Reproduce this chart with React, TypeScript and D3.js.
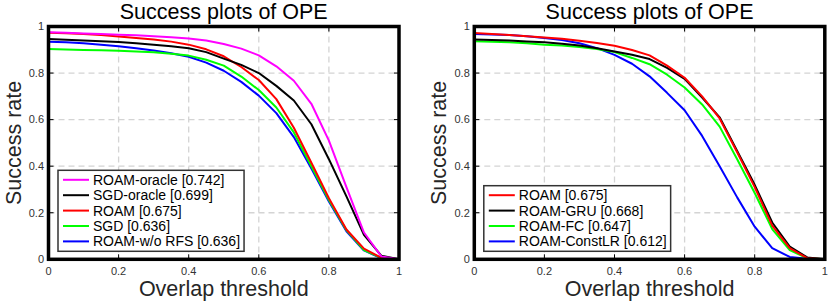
import React, { useEffect, useRef } from 'react';
import * as d3 from 'd3';

const W = 830;
const H = 304;

// overlap thresholds 0, 0.05, ... 1
const thresholds = [0, 0.05, 0.1, 0.15, 0.2, 0.25, 0.3, 0.35, 0.4, 0.45, 0.5, 0.55, 0.6, 0.65, 0.7, 0.75, 0.8, 0.85, 0.9, 0.95, 1];
const tickValues = [0, 0.2, 0.4, 0.6, 0.8, 1];
const tickLabels = ['0', '0.2', '0.4', '0.6', '0.8', '1'];

// left chart
const roamOracle = [0.975, 0.973, 0.97, 0.968, 0.965, 0.962, 0.958, 0.954, 0.948, 0.94, 0.925, 0.905, 0.876, 0.829, 0.767, 0.668, 0.51, 0.31, 0.115, 0.012, 0];
const sgdOracle = [0.946, 0.943, 0.94, 0.937, 0.933, 0.928, 0.922, 0.915, 0.907, 0.89, 0.862, 0.835, 0.8, 0.745, 0.682, 0.58, 0.43, 0.27, 0.105, 0.015, 0];
const roamLeft = [0.973, 0.971, 0.968, 0.963, 0.957, 0.951, 0.944, 0.935, 0.922, 0.902, 0.872, 0.826, 0.77, 0.688, 0.565, 0.415, 0.262, 0.128, 0.046, 0.006, 0];
const sgd = [0.903, 0.901, 0.899, 0.898, 0.896, 0.893, 0.889, 0.883, 0.875, 0.857, 0.832, 0.785, 0.727, 0.652, 0.545, 0.4, 0.255, 0.125, 0.04, 0.005, 0];
const roamNoRfs = [0.935, 0.932, 0.928, 0.922, 0.915, 0.907, 0.897, 0.885, 0.87, 0.845, 0.81, 0.762, 0.703, 0.628, 0.525, 0.39, 0.248, 0.12, 0.038, 0.004, 0];

// right chart
const roamRight = [0.972, 0.968, 0.963, 0.958, 0.953, 0.947, 0.939, 0.929, 0.917, 0.899, 0.876, 0.832, 0.78, 0.7, 0.605, 0.46, 0.31, 0.145, 0.048, 0.005, 0];
const roamGru = [0.944, 0.942, 0.94, 0.936, 0.932, 0.926, 0.918, 0.907, 0.893, 0.879, 0.86, 0.822, 0.775, 0.695, 0.61, 0.465, 0.32, 0.158, 0.055, 0.008, 0];
const roamFc = [0.937, 0.935, 0.932, 0.928, 0.922, 0.918, 0.912, 0.903, 0.89, 0.865, 0.838, 0.793, 0.738, 0.665, 0.57, 0.43, 0.285, 0.13, 0.04, 0.004, 0];
const roamConstLr = [0.968, 0.966, 0.963, 0.958, 0.951, 0.942, 0.928, 0.907, 0.878, 0.84, 0.786, 0.715, 0.64, 0.53, 0.4, 0.266, 0.14, 0.048, 0.01, 0.002, 0];

const leftSeries = [
  { name: 'ROAM-oracle [0.742]', color: '#ff00ff', values: roamOracle },
  { name: 'SGD-oracle [0.699]', color: '#000000', values: sgdOracle },
  { name: 'ROAM [0.675]', color: '#ff0000', values: roamLeft },
  { name: 'SGD [0.636]', color: '#00ff00', values: sgd },
  { name: 'ROAM-w/o RFS [0.636]', color: '#0000ff', values: roamNoRfs },
];

const rightSeries = [
  { name: 'ROAM [0.675]', color: '#ff0000', values: roamRight },
  { name: 'ROAM-GRU [0.668]', color: '#000000', values: roamGru },
  { name: 'ROAM-FC [0.647]', color: '#00ff00', values: roamFc },
  { name: 'ROAM-ConstLR [0.612]', color: '#0000ff', values: roamConstLr },
];

const FONT = '"Liberation Sans", Arial, Helvetica, sans-serif';

const drawPanel = (g, left, series) => {
  const top = 26.5;
  const bottom = 259.3;
  const right = left + 350.5;
  const x = d3.scaleLinear().domain([0, 1]).range([left, right]);
  const y = d3.scaleLinear().domain([0, 1]).range([bottom, top]);

  // grid
  const grid = g.append('g');
  tickValues.slice(1, -1).forEach((t) => {
    grid.append('line')
      .attr('x1', x(t)).attr('x2', x(t)).attr('y1', top).attr('y2', bottom)
      .attr('stroke', '#d4d4d4').attr('stroke-width', 1.3).attr('stroke-dasharray', '6,4');
    grid.append('line')
      .attr('x1', left).attr('x2', right).attr('y1', y(t)).attr('y2', y(t))
      .attr('stroke', '#d4d4d4').attr('stroke-width', 1.3).attr('stroke-dasharray', '6,4');
  });

  // curves
  const line = d3.line().x((d) => x(d[0])).y((d) => y(d[1]));
  series.slice().reverse().forEach((s) => {
    g.append('path')
      .attr('d', line(thresholds.map((t, i) => [t, s.values[i]])))
      .attr('fill', 'none')
      .attr('stroke', s.color)
      .attr('stroke-width', 2)
      .attr('stroke-linejoin', 'round');
  });

  // inward ticks on all sides
  tickValues.forEach((t) => {
    g.append('line').attr('x1', x(t)).attr('x2', x(t)).attr('y1', bottom).attr('y2', bottom - 5).attr('stroke', '#000');
    g.append('line').attr('x1', x(t)).attr('x2', x(t)).attr('y1', top).attr('y2', top + 5).attr('stroke', '#000');
    g.append('line').attr('x1', left).attr('x2', left + 5).attr('y1', y(t)).attr('y2', y(t)).attr('stroke', '#000');
    g.append('line').attr('x1', right).attr('x2', right - 5).attr('y1', y(t)).attr('y2', y(t)).attr('stroke', '#000');
  });

  // frame
  g.append('rect')
    .attr('x', left).attr('y', top)
    .attr('width', right - left).attr('height', bottom - top)
    .attr('fill', 'none').attr('stroke', '#000').attr('stroke-width', 3.5);

  // tick labels
  tickValues.forEach((t, i) => {
    g.append('text')
      .attr('x', left - 4.5).attr('y', y(t)).attr('dy', '0.35em')
      .attr('text-anchor', 'end')
      .attr('font-size', 11).attr('fill', '#333')
      .text(tickLabels[i]);
    g.append('text')
      .attr('x', x(t)).attr('y', bottom + 16)
      .attr('text-anchor', 'middle')
      .attr('font-size', 11).attr('fill', '#333')
      .text(tickLabels[i]);
  });

  // titles
  g.append('text')
    .attr('x', (left + right) / 2).attr('y', 18.5)
    .attr('text-anchor', 'middle').attr('font-size', 21.5).attr('fill', '#000')
    .text('Success plots of OPE');
  g.append('text')
    .attr('x', (left + right) / 2).attr('y', 296)
    .attr('text-anchor', 'middle').attr('font-size', 21.5).attr('fill', '#262626')
    .text('Overlap threshold');
  g.append('text')
    .attr('transform', `translate(${left - 28},${(top + bottom) / 2}) rotate(-90)`)
    .attr('text-anchor', 'middle').attr('font-size', 21.5).attr('fill', '#262626')
    .text('Success rate');

  // legend
  const rowH = 15.4;
  const boxX = left + 9.5;
  const boxBottom = bottom - 8;
  const boxH = series.length * rowH + 4;
  const leg = g.append('g');
  const box = leg.append('rect')
    .attr('x', boxX).attr('y', boxBottom - boxH)
    .attr('height', boxH)
    .attr('fill', '#fff').attr('stroke', '#333').attr('stroke-width', 1.5);
  let maxW = 0;
  series.forEach((s, i) => {
    const cy = boxBottom - boxH + 9.5 + i * rowH;
    leg.append('line')
      .attr('x1', boxX + 5).attr('x2', boxX + 31)
      .attr('y1', cy).attr('y2', cy)
      .attr('stroke', s.color).attr('stroke-width', 2);
    const tx = leg.append('text')
      .attr('x', boxX + 35).attr('y', cy).attr('dy', '0.36em')
      .attr('font-size', 14).attr('fill', '#000')
      .text(s.name);
    const node = tx.node();
    const w = node && node.getComputedTextLength ? node.getComputedTextLength() : 130;
    maxW = Math.max(maxW, w);
  });
  box.attr('width', 35 + maxW + 4);
};

const App = () => {
  const svgRef = useRef(null);

  useEffect(() => {
    const svg = d3.select(svgRef.current);
    svg.selectAll('*').remove();
    svg.append('rect').attr('width', W).attr('height', H).attr('fill', '#fff');
    const root = svg.append('g').attr('font-family', FONT);
    drawPanel(root.append('g'), 48.5, leftSeries);
    drawPanel(root.append('g'), 474.3, rightSeries);
  }, []);

  return (
    <svg
      ref={svgRef}
      width={W}
      height={H}
      style={{ position: 'absolute', left: 0, top: 0, display: 'block' }}
    />
  );
};

export default App;
